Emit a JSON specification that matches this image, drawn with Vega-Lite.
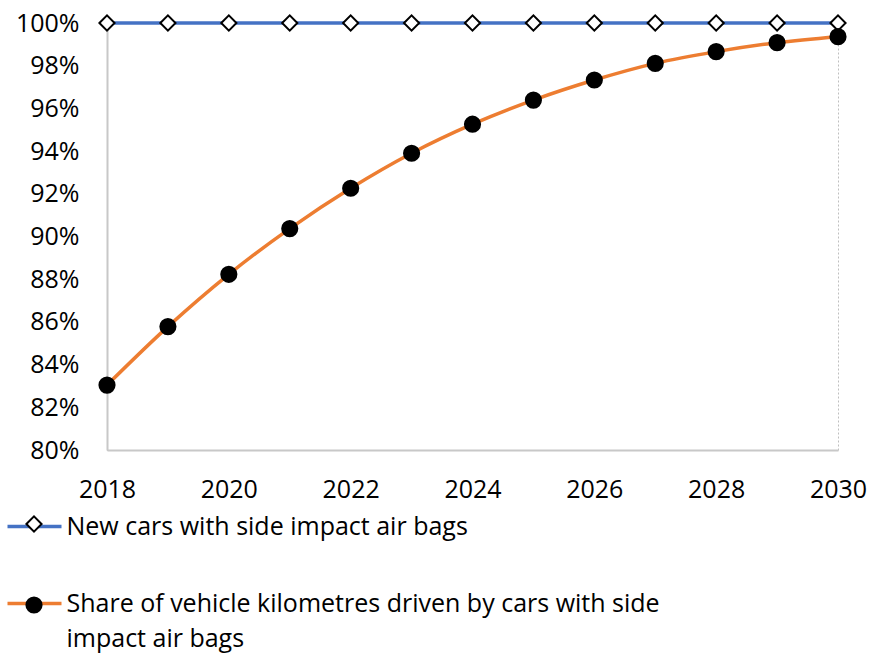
{
  "$schema": "https://vega.github.io/schema/vega-lite/v6.json",
  "width": 731,
  "height": 427,
  "autosize": {"type": "none"},
  "padding": {"left": 107, "top": 23, "right": 32, "bottom": 205},
  "background": "white",
  "config": {
    "font": "Open Sans",
    "view": {"stroke": "#bfbfbf", "strokeDash": [2, 2], "strokeWidth": 1},
    "axis": {
      "labelFont": "Open Sans",
      "labelFontSize": 25,
      "labelColor": "#000000",
      "ticks": false,
      "tickSize": 0,
      "grid": false,
      "domainColor": "#c8c8c8",
      "domainWidth": 2,
      "title": null
    }
  },
  "data": {
    "values": [
      {"year": 2018, "series": "New cars with side impact air bags", "value": 1.0},
      {"year": 2019, "series": "New cars with side impact air bags", "value": 1.0},
      {"year": 2020, "series": "New cars with side impact air bags", "value": 1.0},
      {"year": 2021, "series": "New cars with side impact air bags", "value": 1.0},
      {"year": 2022, "series": "New cars with side impact air bags", "value": 1.0},
      {"year": 2023, "series": "New cars with side impact air bags", "value": 1.0},
      {"year": 2024, "series": "New cars with side impact air bags", "value": 1.0},
      {"year": 2025, "series": "New cars with side impact air bags", "value": 1.0},
      {"year": 2026, "series": "New cars with side impact air bags", "value": 1.0},
      {"year": 2027, "series": "New cars with side impact air bags", "value": 1.0},
      {"year": 2028, "series": "New cars with side impact air bags", "value": 1.0},
      {"year": 2029, "series": "New cars with side impact air bags", "value": 1.0},
      {"year": 2030, "series": "New cars with side impact air bags", "value": 1.0},
      {"year": 2018, "series": "Share of vehicle kilometres driven by cars with side impact air bags", "value": 0.8304},
      {"year": 2019, "series": "Share of vehicle kilometres driven by cars with side impact air bags", "value": 0.8578},
      {"year": 2020, "series": "Share of vehicle kilometres driven by cars with side impact air bags", "value": 0.8823},
      {"year": 2021, "series": "Share of vehicle kilometres driven by cars with side impact air bags", "value": 0.9037},
      {"year": 2022, "series": "Share of vehicle kilometres driven by cars with side impact air bags", "value": 0.9226},
      {"year": 2023, "series": "Share of vehicle kilometres driven by cars with side impact air bags", "value": 0.939},
      {"year": 2024, "series": "Share of vehicle kilometres driven by cars with side impact air bags", "value": 0.9526},
      {"year": 2025, "series": "Share of vehicle kilometres driven by cars with side impact air bags", "value": 0.9639},
      {"year": 2026, "series": "Share of vehicle kilometres driven by cars with side impact air bags", "value": 0.9733},
      {"year": 2027, "series": "Share of vehicle kilometres driven by cars with side impact air bags", "value": 0.9811},
      {"year": 2028, "series": "Share of vehicle kilometres driven by cars with side impact air bags", "value": 0.9866},
      {"year": 2029, "series": "Share of vehicle kilometres driven by cars with side impact air bags", "value": 0.9908},
      {"year": 2030, "series": "Share of vehicle kilometres driven by cars with side impact air bags", "value": 0.9936}
    ]
  },
  "encoding": {
    "x": {
      "field": "year",
      "type": "quantitative",
      "scale": {"domain": [2018, 2030], "nice": false, "zero": false},
      "axis": {
        "values": [2018, 2020, 2022, 2024, 2026, 2028, 2030],
        "format": "d",
        "labelPadding": 27,
        "labelFlush": false,
        "labelOverlap": false
      }
    },
    "y": {
      "field": "value",
      "type": "quantitative",
      "scale": {"domain": [0.8, 1.0], "nice": false, "zero": false},
      "axis": {
        "values": [0.8, 0.82, 0.84, 0.86, 0.88, 0.9, 0.92, 0.94, 0.96, 0.98, 1.0],
        "format": ".0%",
        "labelPadding": 28,
        "labelOverlap": false
      }
    }
  },
  "layer": [
    {
      "mark": {"type": "line", "strokeWidth": 3.5, "interpolate": "monotone"},
      "encoding": {
        "stroke": {
          "field": "series",
          "type": "nominal",
          "scale": {
            "domain": ["New cars with side impact air bags", "Share of vehicle kilometres driven by cars with side impact air bags"],
            "range": ["#4472C4", "#ED7D31"]
          },
          "legend": {
            "orient": "none",
            "legendX": -101.5,
            "legendY": 474.5,
            "direction": "vertical",
            "title": null,
            "symbolType": "stroke",
            "symbolSize": 2916,
            "symbolStrokeWidth": 3.5,
            "labelFont": "Open Sans",
            "labelFontSize": 25,
            "labelColor": "#000000",
            "labelLimit": 0,
            "labelOffset": 3,
            "rowPadding": 35,
            "padding": 0,
            "zindex": 0,
            "labelExpr": "datum.label == 'Share of vehicle kilometres driven by cars with side impact air bags' ? ['Share of vehicle kilometres driven by cars with side', 'impact air bags'] : datum.label",
            "encode": {"labels": {"update": {"lineHeight": {"value": 35}}}}
          }
        }
      }
    },
    {
      "mark": {"type": "point", "filled": true, "size": 230, "stroke": "black", "strokeWidth": 2, "opacity": 1},
      "encoding": {
        "shape": {
          "field": "series",
          "type": "nominal",
          "scale": {"range": ["diamond", "circle"]},
          "legend": {
            "orient": "none",
            "legendX": -85.5,
            "legendY": 488.5,
            "direction": "vertical",
            "title": null,
            "symbolSize": 230,
            "symbolStrokeColor": "black",
            "symbolStrokeWidth": 2,
            "symbolOpacity": 1,
            "labelFontSize": 25,
            "labelExpr": "''",
            "rowPadding": 55,
            "padding": 0,
            "zindex": 1,
            "encode": {"symbols": {"update": {"stroke": {"value": "black"}, "strokeWidth": {"value": 2}}}}
          }
        },
        "fill": {
          "field": "series",
          "type": "nominal",
          "scale": {"range": ["white", "black"]},
          "legend": {
            "orient": "none",
            "legendX": -85.5,
            "legendY": 488.5,
            "direction": "vertical",
            "title": null,
            "symbolSize": 230,
            "symbolStrokeColor": "black",
            "symbolStrokeWidth": 2,
            "symbolOpacity": 1,
            "labelFontSize": 25,
            "labelExpr": "''",
            "rowPadding": 55,
            "padding": 0,
            "zindex": 1,
            "encode": {"symbols": {"update": {"stroke": {"value": "black"}, "strokeWidth": {"value": 2}}}}
          }
        }
      }
    }
  ]
}
